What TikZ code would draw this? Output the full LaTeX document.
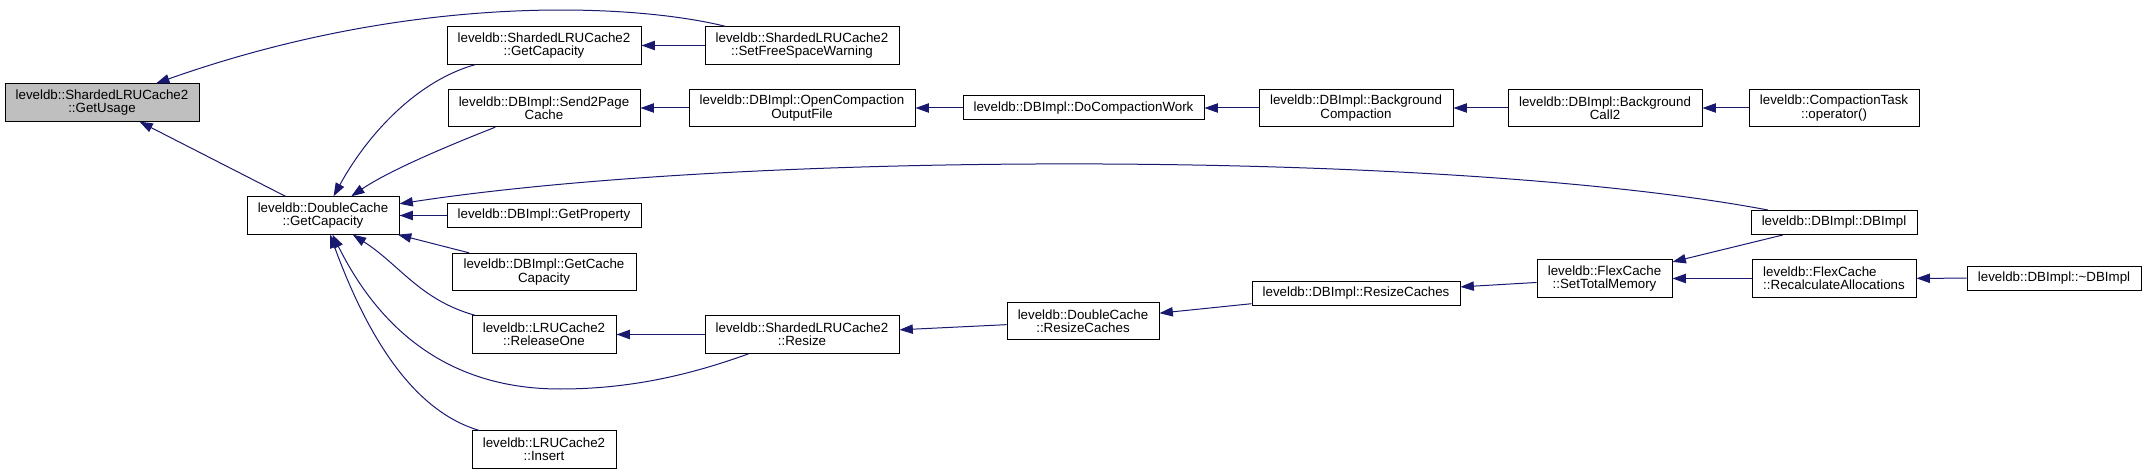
\documentclass[tikz,border=0pt]{standalone}
\usepackage{fontspec}
\setmainfont{Liberation Sans}
\usetikzlibrary{arrows.meta}

\definecolor{dxblue}{HTML}{191970}
\definecolor{rootgray}{HTML}{BFBFBF}
\newcommand{\dxfont}{\fontsize{10}{10}\selectfont}

\tikzset{
  fnbox/.style={rectangle,draw=black,fill=white,line width=0.75pt,font=\dxfont,align=center,inner xsep=2pt,inner ysep=2pt,minimum height=18pt},
  twoline/.style={minimum height=28pt},
  calls/.style={draw=dxblue,line width=0.75pt,{Triangle[length=10pt,width=7pt]}-}
}

\begin{document}
\begin{tikzpicture}[x=0.75pt,y=-0.75pt]
        \useasboundingbox (0,0) rectangle (2146,474);

        % function nodes
        \node [fnbox,twoline,fill=rootgray,minimum width=145.5pt] (usage) at (102,102.5) {leveldb::ShardedLRUCache2\\::GetUsage};
        \node [fnbox,twoline,minimum width=114pt] (dcgc) at (323,215.5) {leveldb::DoubleCache\\::GetCapacity};

        \node [fnbox,twoline,minimum width=145.5pt] (shgc) at (544,45.5) {leveldb::ShardedLRUCache2\\::GetCapacity};
        \node [fnbox,twoline,minimum width=144pt] (s2pc) at (544,108) {leveldb::DBImpl::Send2Page\\Cache};
        \node [fnbox,minimum width=145.5pt] (getprop) at (544,215.5) {leveldb::DBImpl::GetProperty};
        \node [fnbox,twoline,minimum width=138pt] (gcc) at (544,272) {leveldb::DBImpl::GetCache\\Capacity};
        \node [fnbox,twoline,minimum width=108pt] (relone) at (544,334.5) {leveldb::LRUCache2\\::ReleaseOne};
        \node [fnbox,twoline,minimum width=108pt] (insert) at (544,449.5) {leveldb::LRUCache2\\::Insert};

        \node [fnbox,twoline,minimum width=145.5pt] (sfsw) at (802,45.5) {leveldb::ShardedLRUCache2\\::SetFreeSpaceWarning};
        \node [fnbox,twoline,minimum width=169.5pt] (ocof) at (802,108) {leveldb::DBImpl::OpenCompaction\\OutputFile};
        \node [fnbox,twoline,minimum width=145.5pt] (shresize) at (802,334.5) {leveldb::ShardedLRUCache2\\::Resize};

        \node [fnbox,minimum width=180.75pt] (dcw) at (1083.5,108) {leveldb::DBImpl::DoCompactionWork};
        \node [fnbox,twoline,minimum width=114pt] (dcrc) at (1083,321) {leveldb::DoubleCache\\::ResizeCaches};

        \node [fnbox,twoline,minimum width=145.5pt] (bgc) at (1356,108) {leveldb::DBImpl::Background\\Compaction};
        \node [fnbox,minimum width=156pt] (dbrc) at (1356,293) {leveldb::DBImpl::ResizeCaches};

        \node [fnbox,twoline,minimum width=145.5pt] (bgc2) at (1605,108) {leveldb::DBImpl::Background\\Call2};
        \node [fnbox,twoline,minimum width=101.25pt] (stm) at (1604.5,278.5) {leveldb::FlexCache\\::SetTotalMemory};

        \node [fnbox,twoline,minimum width=127.5pt] (ctop) at (1834,108) {leveldb::CompactionTask\\::operator()};
        \node [fnbox,minimum width=124.5pt] (dbimpl) at (1834,222.5) {leveldb::DBImpl::DBImpl};
        \node [fnbox,twoline,align=left,minimum width=123pt] (recalc) at (1834,278.5) {leveldb::FlexCache\\::RecalculateAllocations};

        \node [fnbox,minimum width=130.5pt] (dtor) at (2054,278) {leveldb::DBImpl::\textasciitilde DBImpl};

        \coordinate (rsdip) at (560,389);

        % callers
        \draw [calls] (usage) -- (dcgc);
        \draw [calls] (usage) .. controls (420,-10) and (640,5) .. (sfsw);

        \draw [calls] (dcgc) .. controls (370,130) and (420,80) .. (shgc);
        \draw [calls] (dcgc) .. controls (390,170) and (450,145) .. (s2pc);
        \draw [calls] (dcgc) .. controls (750,150) and (1450,150) .. (dbimpl);
        \draw [calls] (dcgc) -- (getprop);
        \draw [calls] (dcgc) -- (gcc);
        \draw [calls] (dcgc) .. controls (400,265) and (420,300) .. (relone);
        \draw [calls] (dcgc) .. controls (375,320) and (440,389) .. (rsdip) .. controls (630,389) and (690,375) .. (shresize);
        \draw [calls] (dcgc) .. controls (365,330) and (410,410) .. (insert);

        \draw [calls] (shgc) -- (sfsw);
        \draw [calls] (s2pc) -- (ocof);
        \draw [calls] (ocof) -- (dcw);
        \draw [calls] (dcw) -- (bgc);
        \draw [calls] (bgc) -- (bgc2);
        \draw [calls] (bgc2) -- (ctop);

        \draw [calls] (relone) -- (shresize);
        \draw [calls] (shresize) -- (dcrc);
        \draw [calls] (dcrc) -- (dbrc);
        \draw [calls] (dbrc) -- (stm);
        \draw [calls] (stm) -- (dbimpl);
        \draw [calls] (stm) -- (recalc);
        \draw [calls] (recalc) -- (dtor);

\end{tikzpicture}
\end{document}
